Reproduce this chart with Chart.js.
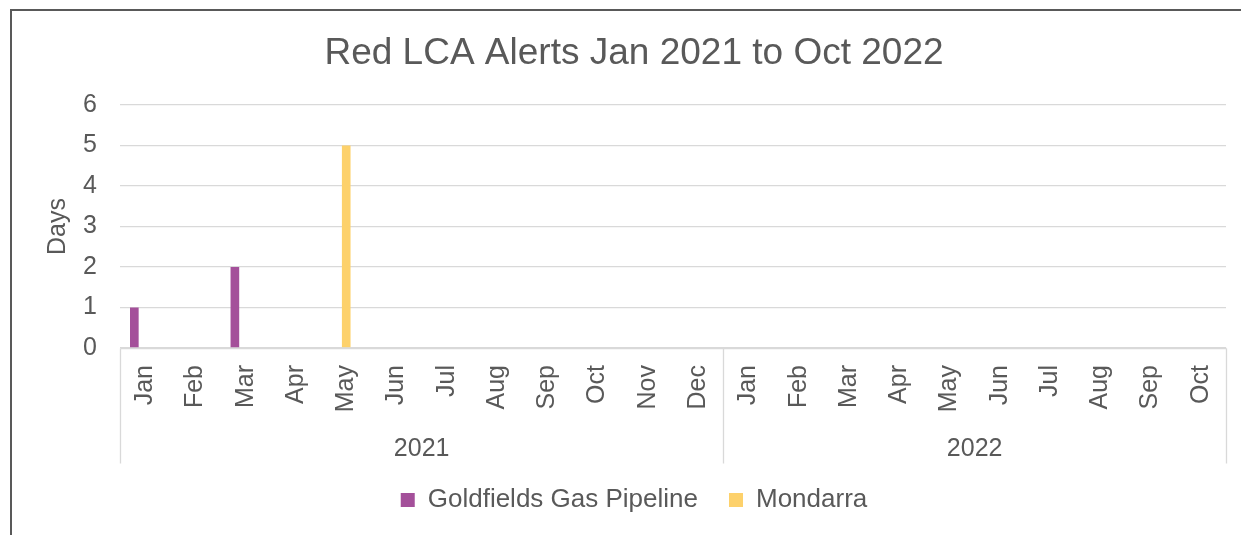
<!DOCTYPE html>
<html>
<head>
<meta charset="utf-8">
<title>Red LCA Alerts Jan 2021 to Oct 2022</title>
<script src="https://cdn.jsdelivr.net/npm/chart.js@4.4.1/dist/chart.umd.min.js"></script>
<style>
  html, body { margin: 0; padding: 0; background: #fff; overflow: hidden; }
  #frame { position: absolute; left: 10px; top: 9px; width: 1300px; height: 600px; border: 2px solid #595959; box-sizing: border-box; }
  #chart { position: absolute; left: 0; top: 0; }
</style>
</head>
<body>
<div id="frame"></div>
<canvas id="chart" width="1241" height="535"></canvas>
<script>
const months2021 = ["Jan", "Feb", "Mar", "Apr", "May", "Jun", "Jul", "Aug", "Sep", "Oct", "Nov", "Dec"];
const months2022 = ["Jan", "Feb", "Mar", "Apr", "May", "Jun", "Jul", "Aug", "Sep", "Oct"];
const years = ["2021", "2022"];

// days with a red LCA alert, one value per month (Jan 2021 .. Oct 2022)
const goldfieldsDays = [1, 0, 2, 0, 0, 0, 0, 0, 0, 0, 0, 0, 0, 0, 0, 0, 0, 0, 0, 0, 0, 0];
const mondarraDays = [0, 0, 0, 0, 5, 0, 0, 0, 0, 0, 0, 0, 0, 0, 0, 0, 0, 0, 0, 0, 0, 0];
// third series of the source chart: no alerts, left out of the legend
const otherDays = [0, 0, 0, 0, 0, 0, 0, 0, 0, 0, 0, 0, 0, 0, 0, 0, 0, 0, 0, 0, 0, 0];

const FONT = '"Liberation Sans", Arial, sans-serif';
const TEXT = "#595959";
const GRID = "#D9D9D9";

Chart.defaults.font.family = FONT;
Chart.defaults.color = TEXT;

// draws the second row of the category axis (years) with its divider lines
const yearGroups = {
  id: "yearGroups",
  afterDraw(chart) {
    const x = chart.scales.x;
    const ctx = chart.ctx;
    const top = Math.round(x.top) + 0.5;
    const bottom = top + 115;
    const n = months2021.length;
    const split = (x.getPixelForTick(n - 1) + x.getPixelForTick(n)) / 2;
    const edges = [x.left, split, x.right].map(v => Math.round(v) + 0.5);

    ctx.save();
    ctx.strokeStyle = GRID;
    ctx.lineWidth = 1.3;
    ctx.beginPath();
    ctx.moveTo(edges[0], top);
    ctx.lineTo(edges[2], top);
    edges.forEach(px => {
      ctx.moveTo(px, top);
      ctx.lineTo(px, bottom);
    });
    ctx.stroke();

    ctx.fillStyle = TEXT;
    ctx.font = "25px " + FONT;
    ctx.textAlign = "center";
    ctx.textBaseline = "middle";
    ctx.fillText(years[0], (x.left + split) / 2, x.top + 101);
    ctx.fillText(years[1], (split + x.right) / 2, x.top + 101);
    ctx.restore();
  }
};

new Chart(document.getElementById("chart"), {
  type: "bar",
  data: {
    labels: months2021.concat(months2022),
    datasets: [
      {
        label: "Goldfields Gas Pipeline",
        data: goldfieldsDays,
        backgroundColor: "#A4509A",
      },
      {
        label: "Mondarra",
        data: mondarraDays,
        backgroundColor: "#FDD16B",
      },
      {
        label: "Other",
        data: otherDays,
        backgroundColor: "#7FB3D5",
      },
    ],
  },
  options: {
    responsive: false,
    animation: false,
    categoryPercentage: 0.645,
    barPercentage: 0.8,
    layout: { padding: { left: 42, right: 15, top: 0, bottom: 12 } },
    plugins: {
      tooltip: { enabled: false },
      title: {
        display: true,
        text: "Red LCA Alerts Jan 2021 to Oct 2022",
        color: TEXT,
        font: { size: 37, weight: "normal" },
        padding: { top: 31.5, bottom: 29.1 },
      },
      legend: {
        position: "bottom",
        labels: {
          boxWidth: 14,
          boxHeight: 14,
          padding: 31,
          color: TEXT,
          font: { size: 26 },
          filter: item => item.text !== "Other",
        },
      },
    },
    scales: {
      x: {
        grid: { display: false },
        border: { display: false },
        ticks: {
          minRotation: 90,
          maxRotation: 90,
          autoSkip: false,
          padding: 9,
          color: TEXT,
          font: { size: 25 },
        },
        afterFit: scale => {
          scale.height = 108;
          scale.paddingLeft = 0;
          scale.paddingRight = 0;
        },
      },
      y: {
        min: 0,
        max: 6,
        grid: { color: GRID, lineWidth: 1.3, drawTicks: false },
        border: { display: false },
        ticks: {
          stepSize: 1,
          padding: 23,
          color: TEXT,
          font: { size: 25 },
        },
        title: {
          display: true,
          text: "Days",
          color: TEXT,
          font: { size: 25 },
          padding: { top: 1, bottom: 0 },
        },
        afterFit: scale => { scale.width = 78; },
      },
    },
  },
  plugins: [yearGroups],
});
</script>
</body>
</html>
